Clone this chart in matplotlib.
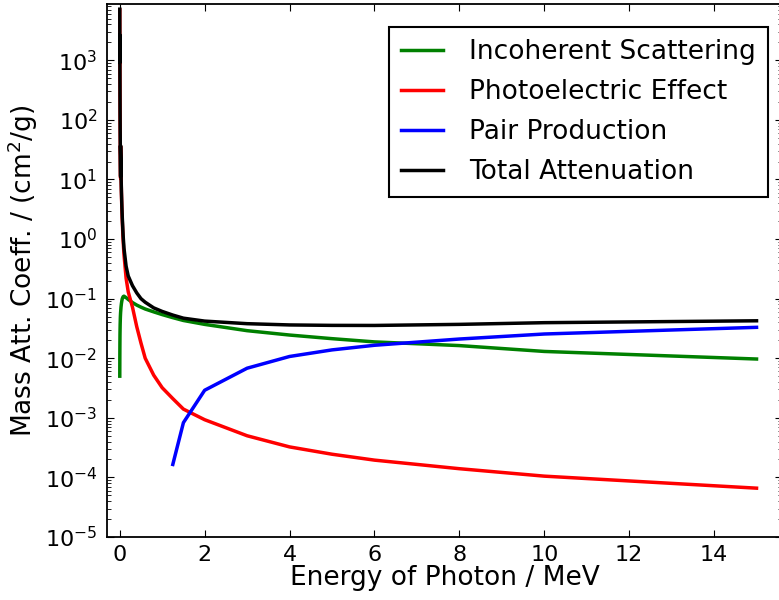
import matplotlib
matplotlib.use('Agg')
from matplotlib import pyplot as plt

# photon energies in MeV (edges repeated so the jump is drawn vertically)
energy = [0.001, 0.0015, 0.002, 0.0025, 0.0025, 0.003, 0.004, 0.005, 0.006, 0.008,
          0.01, 0.015, 0.02, 0.02, 0.03, 0.04, 0.05, 0.06, 0.08, 0.1,
          0.15, 0.2, 0.3, 0.4, 0.5, 0.6, 0.8, 1.0, 1.25, 1.5,
          2.0, 3.0, 4.0, 5.0, 6.0, 8.0, 10.0, 15.0]

incoherent = [0.005, 0.007, 0.009, 0.011, 0.011, 0.013, 0.017, 0.021, 0.025, 0.031,
              0.037, 0.049, 0.058, 0.058, 0.072, 0.083, 0.092, 0.100, 0.108, 0.110,
              0.104, 0.097, 0.086, 0.078, 0.072, 0.067, 0.060, 0.054, 0.048, 0.043,
              0.037, 0.029, 0.0245, 0.0213, 0.0188, 0.0163, 0.0130, 0.0097]

photoelectric = [7000, 3000, 1550, 900, 2600, 1700, 800, 450, 280, 125,
                 68, 24, 10.5, 36, 12.5, 5.8, 3.2, 2.0, 0.95, 0.55,
                 0.22, 0.13, 0.072, 0.034, 0.018, 0.010, 0.0052, 0.0032, 0.0021, 0.0014,
                 0.00093, 0.0005, 0.000325, 0.000245, 0.000195, 0.00014, 0.000105, 0.000066]

total = [7200, 3100, 1600, 930, 2650, 1750, 820, 460, 290, 130,
         71, 25, 11.2, 37, 13.2, 6.3, 3.6, 2.3, 1.15, 0.70,
         0.35, 0.24, 0.165, 0.125, 0.100, 0.087, 0.070, 0.061, 0.053, 0.047,
         0.042, 0.038, 0.0362, 0.0356, 0.0355, 0.037, 0.0395, 0.0425]

# pair production only above threshold
pair_energy = [1.25, 1.5, 2.0, 3.0, 4.0, 5.0, 6.0, 8.0, 10.0, 15.0]
pair = [0.000165, 0.00083, 0.0029, 0.0068, 0.0107, 0.0138, 0.0165, 0.021, 0.0255, 0.033]

plt.rcParams['font.family'] = 'DejaVu Sans'
plt.rcParams['font.size'] = 19
plt.rcParams['axes.unicode_minus'] = False
plt.rcParams['xtick.labelsize'] = 16
plt.rcParams['ytick.labelsize'] = 16
plt.rcParams['xtick.direction'] = 'in'
plt.rcParams['ytick.direction'] = 'in'
plt.rcParams['xtick.top'] = True
plt.rcParams['ytick.right'] = True
plt.rcParams['xtick.major.size'] = 5
plt.rcParams['ytick.major.size'] = 5
plt.rcParams['ytick.minor.size'] = 3
plt.rcParams['xtick.major.pad'] = 6
plt.rcParams['ytick.major.pad'] = 7
plt.rcParams['axes.linewidth'] = 1.3

fig = plt.figure(figsize=(7.79, 6.0), dpi=100)
ax = fig.add_axes([107 / 779, 1 - 537 / 600, (782 - 107) / 779, 533 / 600])

ax.semilogy(energy, incoherent, color='green', lw=2.5, label='Incoherent Scattering')
ax.semilogy(energy, photoelectric, color='red', lw=2.5, label='Photoelectric Effect')
ax.semilogy(pair_energy, pair, color='blue', lw=2.5, label='Pair Production')
ax.semilogy(energy, total, color='black', lw=2.5, label='Total Attenuation')

ax.set_xlim(-0.3, 15.6)
ax.set_ylim(1e-5, 8800)
ax.set_xticks(range(0, 15, 2))
ax.set_xlabel('Energy of Photon / MeV')
ax.set_ylabel('Mass Att. Coeff. / (cm$^2$/g)')
ax.xaxis.set_label_coords(0.5, -0.053)
ax.yaxis.set_label_coords(-0.1, 0.5)

leg = ax.legend(loc='upper right', bbox_to_anchor=(768 / 779, 1 - 27 / 600),
                bbox_transform=fig.transFigure, borderaxespad=0,
                fancybox=False, framealpha=1, handlelength=1.6, handletextpad=1.0,
                labelspacing=0.53, borderpad=0.45)
leg.get_frame().set_edgecolor('black')
leg.get_frame().set_linewidth(1.5)

fig.savefig('out.png', dpi=100)
